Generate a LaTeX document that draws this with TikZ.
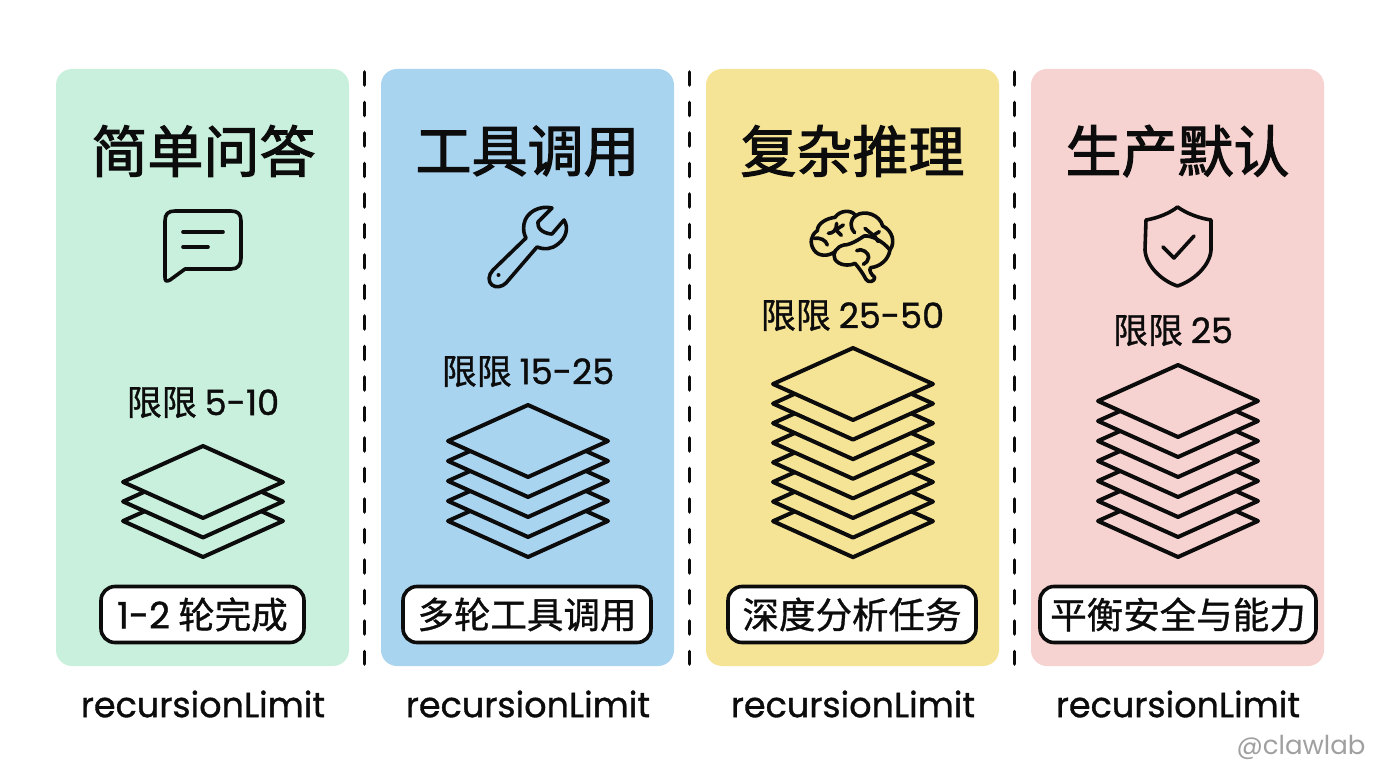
\documentclass[tikz,border=0pt]{standalone}
\usepackage{fontspec}
\setmainfont{Poppins}
\newfontfamily\cjk{Noto Sans CJK SC}[FakeBold=0.9]
\newfontfamily\cjkt{Noto Sans CJK SC}[FakeBold=2]
\newfontfamily\popm{Poppins}[FakeBold=1]
\newfontfamily\popl{Poppins}
\definecolor{pgreen}{HTML}{C9F0DD}
\definecolor{pblue}{HTML}{A9D4F0}
\definecolor{pyellow}{HTML}{F6E496}
\definecolor{ppink}{HTML}{F6D2D0}
\definecolor{ink}{HTML}{0C0C0C}
\definecolor{wm}{HTML}{A0A0A0}
\tikzset{
  panel/.style={rounded corners=16pt,draw=none},
  sep/.style={draw=ink,line width=3.6pt,dash pattern=on 13pt off 17.5pt,line cap=round},
  titletext/.style={text=ink,font=\fontsize{56}{60}\selectfont\cjkt,inner sep=0pt,anchor=center},
  limittext/.style={text=ink,font=\fontsize{35}{38}\selectfont\cjk,inner sep=0pt,anchor=center},
  badge/.style={draw=ink,fill=white,line width=3.6pt,rounded corners=14pt,inner sep=0pt,minimum height=56pt,anchor=center,text=ink,font=\fontsize{36.5}{40}\selectfont\cjk},
  foot/.style={text=ink,font=\fontsize{35}{38}\selectfont\popm,inner sep=0pt,anchor=center},
  icon/.style={draw=ink,line width=3.6pt,line cap=round,line join=round},
  layer/.style={draw=ink,line width=4pt,line join=round},
}
\newcommand{\layerstack}[5]{% centre x, top-diamond centre y, count, step, colour
  \foreach \k in {#3,...,0}{
    \path[layer,fill=#5] (#1-80,#2+\k*#4) -- (#1,#2+\k*#4-36) -- (#1+80,#2+\k*#4) -- (#1,#2+\k*#4+36) -- cycle;
  }
}
\begin{document}
\begin{tikzpicture}[x=1pt,y=-1pt]
\useasboundingbox (0,0) rectangle (1376,768);
\fill[white] (0,0) rectangle (1376,768);
% panels
\fill[panel,pgreen] (56,69) rectangle (349,666);
\fill[panel,pblue] (381,69) rectangle (674,666);
\fill[panel,pyellow] (706,69) rectangle (999,666);
\fill[panel,ppink] (1031,69) rectangle (1324,666);
% separators
\coordinate (s1a) at (364.5,72); \coordinate (s1b) at (364.5,664);
\coordinate (s2a) at (689.5,72); \coordinate (s2b) at (689.5,664);
\coordinate (s3a) at (1014.5,72); \coordinate (s3b) at (1014.5,664);
\draw[sep] (s1a) -- (s1b);
\draw[sep] (s2a) -- (s2b);
\draw[sep] (s3a) -- (s3b);
% titles
\node[titletext] (t1) at (203.5,151) {简单问答};
\node[titletext] (t2) at (527.5,151) {工具调用};
\node[titletext] (t3) at (852.5,151) {复杂推理};
\node[titletext] (t4) at (1177.5,151) {生产默认};
% icon: chat
\draw[icon] (175,211) -- (231,211) .. controls (238,211) and (241,214) .. (241,221) -- (241,258) .. controls (241,265) and (238,269) .. (231,269) -- (185,269) -- (170,280) .. controls (166,282) and (165,281) .. (165,277) -- (165,221) .. controls (165,214) and (168,211) .. (175,211) -- cycle;
\draw[icon] (183,232) -- (223,232);
\draw[icon] (183,247) -- (208,247);
% icon: wrench
\draw[icon] (552,208) .. controls (540,205) and (526,212) .. (524,224) .. controls (523,230) and (524,234) .. (526,238) -- (493,270) .. controls (488,275) and (488,282) .. (492,285) .. controls (496,288) and (502,287) .. (506,283) -- (537,247) .. controls (545,250) and (552,249) .. (558,244) .. controls (566,238) and (569,228) .. (564,220) -- (552,234) .. controls (548,234) and (543,232) .. (541,230) .. controls (538,228) and (538,224) .. (538,222) -- cycle;
\fill[ink] (498.5,275) circle (2pt);
% icon: brain (traced in a 3x frame)
\begin{scope}[shift={(740,200)},x=0.3333pt,y=-0.3333pt]
\draw[icon] (285,155) .. controls (265,170) and (235,170) .. (222,150) .. controls (208,130) and (212,105) .. (232,92) .. controls (232,70) and (260,55) .. (285,52) .. controls (300,30) and (335,28) .. (347,47) .. controls (375,28) and (420,45) .. (428,78) .. controls (455,90) and (468,125) .. (450,150) .. controls (445,180) and (420,200) .. (392,203) .. controls (385,210) and (395,225) .. (404,232) .. controls (405,245) and (385,250) .. (378,238) .. controls (370,222) and (358,205) .. (345,190) .. controls (325,200) and (295,195) .. (285,178) .. controls (275,160) and (290,140) .. (312,135) .. controls (330,135) and (355,120) .. (372,108);
\draw[icon] (372,108) .. controls (395,105) and (430,125) .. (448,148);
\draw[icon] (347,47) .. controls (330,60) and (328,80) .. (344,98);
\draw[icon] (222,115) .. controls (240,112) and (258,120) .. (262,135);
\draw[icon] (265,100) .. controls (280,100) and (290,90) .. (290,70);
\draw[icon] (290,88) -- (310,75);
\draw[icon] (290,92) -- (304,106);
\draw[icon] (375,85) .. controls (390,100) and (405,105) .. (415,125);
\draw[icon] (400,106) -- (418,95);
\draw[icon] (350,152) .. controls (365,142) and (388,160) .. (386,172) .. controls (385,182) and (378,190) .. (370,193);
\end{scope}
% icon: shield
\draw[icon] (1177.5,207) .. controls (1170,213) and (1158,218) .. (1146,220) -- (1145,250) .. controls (1146,266) and (1162,281) .. (1177.5,286) .. controls (1193,281) and (1210,266) .. (1211,250) -- (1211,220) .. controls (1198,218) and (1186,213) .. (1177.5,207) -- cycle;
\draw[icon] (1163,247) -- (1174,258) -- (1194,236);
% limits
\node[limittext] (l1) at (203,402.5) {限限 {\popm 5-10}};
\node[limittext] (l2) at (528,371.5) {限限 {\popm 15-25}};
\node[limittext] (l3) at (852.5,315.5) {限限 {\popm 25-50}};
\node[limittext] (l4) at (1173,330.5) {限限 {\popm 25}};
% stacks
\layerstack{203}{482}{2}{19.5}{pgreen}
\layerstack{528}{441}{4}{20}{pblue}
\layerstack{853}{384}{7}{19.6}{pyellow}
\layerstack{1178}{401}{6}{20}{ppink}
% badges
\node[badge,minimum width=203pt] (b1) at (202.5,614.5) {{\popm 1-2} 轮完成};
\node[badge,minimum width=248pt] (b2) at (527,614.5) {多轮工具调用};
\node[badge,minimum width=248pt] (b3) at (852,614.5) {深度分析任务};
\node[badge,minimum width=276pt] (b4) at (1178,614.5) {平衡安全与能力};
% footers
\node[foot] (f1) at (203,704) {recursionLimit};
\node[foot] (f2) at (528,704) {recursionLimit};
\node[foot] (f3) at (853,704) {recursionLimit};
\node[foot] (f4) at (1178,704) {recursionLimit};
\node[text=wm,font=\fontsize{26}{30}\selectfont\popl,inner sep=0pt] (wm) at (1301,747) {@clawlab};
\end{tikzpicture}
\end{document}
